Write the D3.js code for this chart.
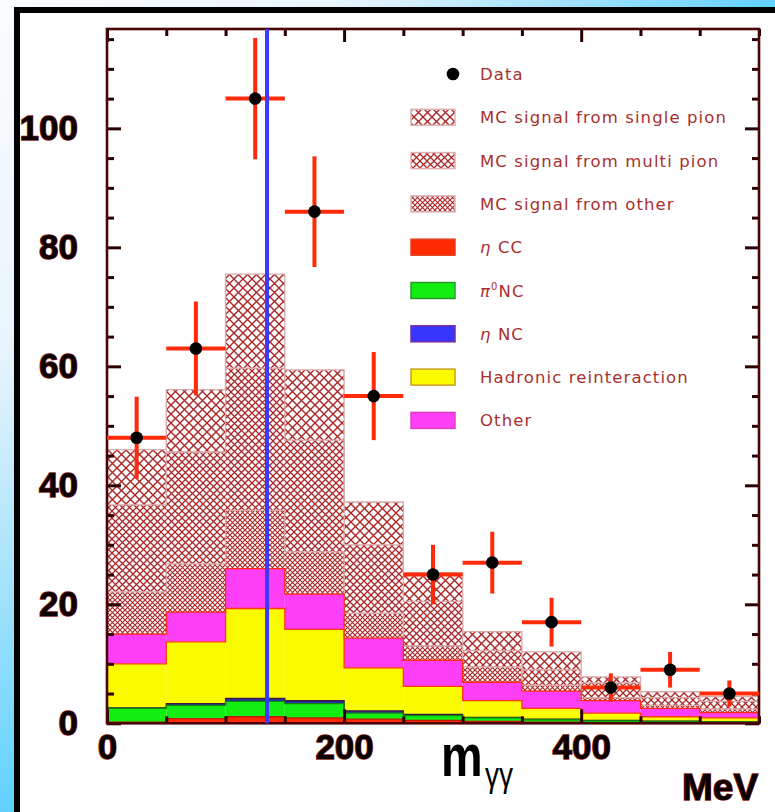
<!DOCTYPE html>
<html><head><meta charset="utf-8">
<script src="https://cdn.jsdelivr.net/npm/d3@7"></script>
<style>html,body{margin:0;padding:0;background:#fff;overflow:hidden}svg{display:block}</style>
</head><body>
<svg id="chart" width="775" height="812"></svg>
<script>
// Diphoton invariant mass, 50 MeV bins from 0 to 550 MeV
const binLow = [0, 50, 100, 150, 200, 250, 300, 350, 400, 450, 500];
const binWidth = 50;

// Data points with statistical errors
const dataCounts = [48, 63, 105, 86, 55, 25, 27, 17, 6, 9, 5];
const dataErrors = [6.9, 7.9, 10.2, 9.3, 7.4, 5.0, 5.2, 4.1, 2.4, 3.0, 2.2];

// MC components per bin, listed from the bottom of the stack upwards
const etaCC      = [0.2, 0.8, 1.1, 0.9, 0.7, 0.5, 0.3, 0.2, 0.1, 0.1, 0.1];
const pi0NC      = [2.3, 2.2, 2.6, 2.4, 1.0, 0.8, 0.6, 0.4, 0.3, 0.2, 0.1];
const etaNC      = [0.1, 0.3, 0.5, 0.5, 0.4, 0.2, 0.1, 0.1, 0.1, 0.05, 0.05];
const hadronic   = [7.4, 10.4, 15.1, 12.0, 7.2, 4.7, 2.8, 1.8, 1.2, 0.75, 0.65];
const otherBkg   = [5.0, 5.0, 6.7, 5.9, 5.0, 4.4, 3.1, 2.9, 2.1, 1.4, 0.9];
const sigOther   = [7.1, 8.1, 9.8, 7.1, 4.2, 2.4, 2.6, 1.0, 0.5, 0.5, 0.6];
const sigMulti   = [14.6, 18.8, 23.9, 18.8, 11.5, 7.5, 2.7, 2.6, 2.5, 1.3, 1.3];
const sigSingle  = [9.3, 10.5, 15.8, 11.8, 7.2, 4.8, 3.2, 3.0, 1.0, 1.0, 0.8];

// pi0 mass marker (MeV)
const pi0Mass = 135;

// Axis ticks
const xTicksMajor = [0, 200, 400];
const xTicksMinor = [50, 100, 150, 250, 300, 350, 450, 500, 550];
const yTicksMajor = [0, 20, 40, 60, 80, 100];
const yTicksMinor = [5, 10, 15, 25, 30, 35, 45, 50, 55, 65, 70, 75, 85, 90, 95, 105, 110, 115];

const xDomain = [0, 550];
const yDomain = [0, 116.7];

// Legend labels
const legendLabels = ["Data", "MC signal from single pion", "MC signal from multi pion",
  "MC signal from other", "η CC", "π0NC", "η NC", "Hadronic reinteraction", "Other"];

const svg = d3.select("#chart");
const W = 775, H = 812;
const plot = {left: 107, right: 759, top: 29, bottom: 723.3};

const x = d3.scaleLinear().domain(xDomain).range([plot.left, plot.right]);
const y = d3.scaleLinear().domain(yDomain).range([plot.bottom, plot.top]);

const defs = svg.append("defs");
const bg = defs.append("linearGradient").attr("id", "bg")
  .attr("x1", 0).attr("y1", 0).attr("x2", 1).attr("y2", 1);
bg.append("stop").attr("offset", 0).attr("stop-color", "#fbfdff");
bg.append("stop").attr("offset", 0.22).attr("stop-color", "#e8f4fc");
bg.append("stop").attr("offset", 0.5).attr("stop-color", "#62d2fd");
bg.append("stop").attr("offset", 1).attr("stop-color", "#3fc8ff");

// crosshatch fills of three densities on a white ground
const hatchColor = "#aa2626";
function crossHatch(id, s, w) {
  const p = defs.append("pattern").attr("id", id)
    .attr("patternUnits", "userSpaceOnUse").attr("width", s).attr("height", s);
  p.append("rect").attr("width", s).attr("height", s).attr("fill", "#fff");
  p.append("path").attr("d", `M0,0L${s},${s}M${s},0L0,${s}`)
    .attr("stroke", hatchColor).attr("stroke-width", w).attr("fill", "none");
}
crossHatch("hSingle", 9, 1.4);
crossHatch("hMulti", 7, 1.25);
crossHatch("hOther", 5, 1.1);

// page background and white panel with black border
svg.append("rect").attr("width", W).attr("height", H).attr("fill", "url(#bg)");
svg.append("rect").attr("x", 17).attr("y", 10).attr("width", W).attr("height", H)
  .attr("fill", "#fff").attr("stroke", "#000").attr("stroke-width", 6);

// stack components
const keys = ["etaCC", "pi0NC", "etaNC", "hadronic", "otherBkg", "sigOther", "sigMulti", "sigSingle"];
const series = {etaCC, pi0NC, etaNC, hadronic, otherBkg, sigOther, sigMulti, sigSingle};
const rows = binLow.map((lo, i) => {
  const r = {lo};
  keys.forEach(k => r[k] = series[k][i]);
  return r;
});
const stacked = d3.stack().keys(keys)(rows);
const byKey = {};
stacked.forEach(s => byKey[s.key] = s);

const g = svg.append("g");
const stepLine = d3.line().curve(d3.curveStepAfter).x(d => x(d[0])).y(d => y(d[1]));
const binRects = (sel, s) => sel.selectAll("rect").data(s).join("rect")
  .attr("x", d => x(d.data.lo)).attr("width", d => x(d.data.lo + binWidth) - x(d.data.lo))
  .attr("y", d => y(d[1])).attr("height", d => y(d[0]) - y(d[1]));
const topEdge = s => {
  const p = s.map(d => [d.data.lo, d[1]]);
  p.push([xDomain[1], s[s.length - 1][1]]);
  return stepLine(p);
};

// all stacked layers: hatched signal bands on top of solid backgrounds
const layers = [
  ["sigSingle", "url(#hSingle)", "#dcaaaa"],
  ["sigMulti", "url(#hMulti)", "#dcaaaa"],
  ["sigOther", "url(#hOther)", "#dcaaaa"],
  ["otherBkg", "#ff3ef8", "#ff2a10"],
  ["hadronic", "#fbfb00", "#ff3a10"],
  ["etaNC", "#2a2a9a", "#3a1a40"],
  ["pi0NC", "#12ee12", "#0b8a0b"],
  ["etaCC", "#ff2a00", "#c01800"]
];
layers.forEach(([k, fill]) => {
  g.append("g").call(binRects, byKey[k]).attr("fill", fill);
});
layers.forEach(([k, fill, line]) => {
  g.append("path").attr("d", topEdge(byKey[k])).attr("fill", "none")
    .attr("stroke", line).attr("stroke-width", 1.3);
});

// axes: inward ticks on all four sides
const axisColor = "#2a0000";
function styleAxis(sel) {
  sel.select(".domain").remove();
  sel.selectAll(".tick line").attr("stroke", axisColor).attr("stroke-width", 3);
}
const labelStyle = sel => sel.selectAll("text")
  .attr("font-family", "Liberation Sans, Arial, sans-serif").attr("font-weight", "bold")
  .attr("font-size", 35).attr("fill", "#0a0000")
  .attr("stroke", "#8a1a1a").attr("stroke-width", 1.4).attr("paint-order", "stroke");

svg.append("g").attr("transform", `translate(${plot.left},0)`)
  .call(d3.axisLeft(y).tickValues(yTicksMajor).tickSize(-14).tickPadding(29).tickFormat(d3.format("d")))
  .call(styleAxis).call(labelStyle);
svg.append("g").attr("transform", `translate(${plot.left},0)`)
  .call(d3.axisLeft(y).tickValues(yTicksMinor).tickSize(-7).tickFormat(""))
  .call(styleAxis);
svg.append("g").attr("transform", `translate(${plot.right},0)`)
  .call(d3.axisRight(y).tickValues(yTicksMajor).tickSize(-14).tickFormat(""))
  .call(styleAxis);
svg.append("g").attr("transform", `translate(${plot.right},0)`)
  .call(d3.axisRight(y).tickValues(yTicksMinor).tickSize(-7).tickFormat(""))
  .call(styleAxis);
svg.append("g").attr("transform", `translate(0,${plot.bottom})`)
  .call(d3.axisBottom(x).tickValues(xTicksMajor).tickSize(-14).tickPadding(11).tickFormat(d3.format("d")))
  .call(styleAxis).call(labelStyle);
svg.append("g").attr("transform", `translate(0,${plot.bottom})`)
  .call(d3.axisBottom(x).tickValues(xTicksMinor).tickSize(-7).tickFormat(""))
  .call(styleAxis);
svg.append("g").attr("transform", `translate(0,${plot.top})`)
  .call(d3.axisTop(x).tickValues(xTicksMajor).tickSize(-13).tickFormat(""))
  .call(styleAxis);
svg.append("g").attr("transform", `translate(0,${plot.top})`)
  .call(d3.axisTop(x).tickValues(xTicksMinor).tickSize(-7).tickFormat(""))
  .call(styleAxis);

// frame
svg.append("rect").attr("x", plot.left).attr("y", plot.top)
  .attr("width", plot.right - plot.left).attr("height", plot.bottom - plot.top)
  .attr("fill", "none").attr("stroke", "#4a0404").attr("stroke-width", 2.6);

// data points with error bars
const errColor = "#ff2a08";
const pts = svg.append("g");
binLow.forEach((lo, i) => {
  const cx = x(lo + binWidth / 2), cy = y(dataCounts[i]);
  pts.append("line").attr("x1", x(lo)).attr("x2", x(lo + binWidth)).attr("y1", cy).attr("y2", cy)
    .attr("stroke", errColor).attr("stroke-width", 4);
  pts.append("line").attr("x1", cx).attr("x2", cx)
    .attr("y1", y(dataCounts[i] - dataErrors[i])).attr("y2", y(dataCounts[i] + dataErrors[i]))
    .attr("stroke", errColor).attr("stroke-width", 4);
  pts.append("circle").attr("cx", cx).attr("cy", cy).attr("r", 6.3).attr("fill", "#000");
});

// pi0 mass line
svg.append("line").attr("x1", x(pi0Mass)).attr("x2", x(pi0Mass))
  .attr("y1", plot.bottom).attr("y2", plot.top)
  .attr("stroke", "#3a3aff").attr("stroke-width", 4);

// legend
const legend = svg.append("g");
const legendFills = [null, "url(#hSingle)", "url(#hMulti)", "url(#hOther)",
  "#ff2a00", "#12ee12", "#3636ff", "#fbfb00", "#ff3ef8"];
const legendStroke = [null, "#e0b0b0", "#e0b0b0", "#e0b0b0",
  "#e04020", "#2a9a2a", "#7a2aa0", "#c8a020", "#e040c0"];
const legendText = "#a8302e";
legendLabels.forEach((lab, i) => {
  const cy = 74 + i * 43.3;
  if (i === 0) {
    legend.append("circle").attr("cx", 453).attr("cy", cy).attr("r", 6.3).attr("fill", "#000");
  } else {
    legend.append("rect").attr("x", 411).attr("y", cy - 8).attr("width", 44).attr("height", 16)
      .attr("fill", legendFills[i]).attr("stroke", legendStroke[i]).attr("stroke-width", 1.5);
  }
  const t = legend.append("text").attr("x", 480).attr("y", cy + 6)
    .attr("font-family", "DejaVu Sans, sans-serif").attr("font-size", 16.5)
    .attr("letter-spacing", 1.1).attr("fill", legendText);
  if (lab.startsWith("π0")) {
    t.append("tspan").attr("font-style", "italic").text("π");
    t.append("tspan").attr("font-size", 10).attr("dy", -7).text("0");
    t.append("tspan").attr("dy", 7).text("NC");
  } else if (lab.startsWith("η")) {
    t.append("tspan").attr("font-style", "italic").text("η");
    t.append("tspan").text(lab.slice(1));
  } else {
    t.text(lab);
  }
});

// axis title (m with subscript γγ) and unit
const title = svg.append("text")
  .attr("transform", "translate(441,776) scale(0.78,1)")
  .attr("font-family", "Liberation Sans, Arial, sans-serif").attr("fill", "#000");
title.append("tspan").attr("font-weight", "bold").attr("font-size", 60).text("m");
title.append("tspan").attr("font-size", 36).attr("dx", 3).attr("dy", 11).text("γγ");

svg.append("text").attr("x", 682).attr("y", 800)
  .attr("font-family", "Liberation Sans, Arial, sans-serif").attr("font-weight", "bold")
  .attr("font-size", 37).attr("fill", "#0a0000")
  .attr("stroke", "#8a1a1a").attr("stroke-width", 1.4).attr("paint-order", "stroke")
  .text("MeV");
</script>
</body></html>
